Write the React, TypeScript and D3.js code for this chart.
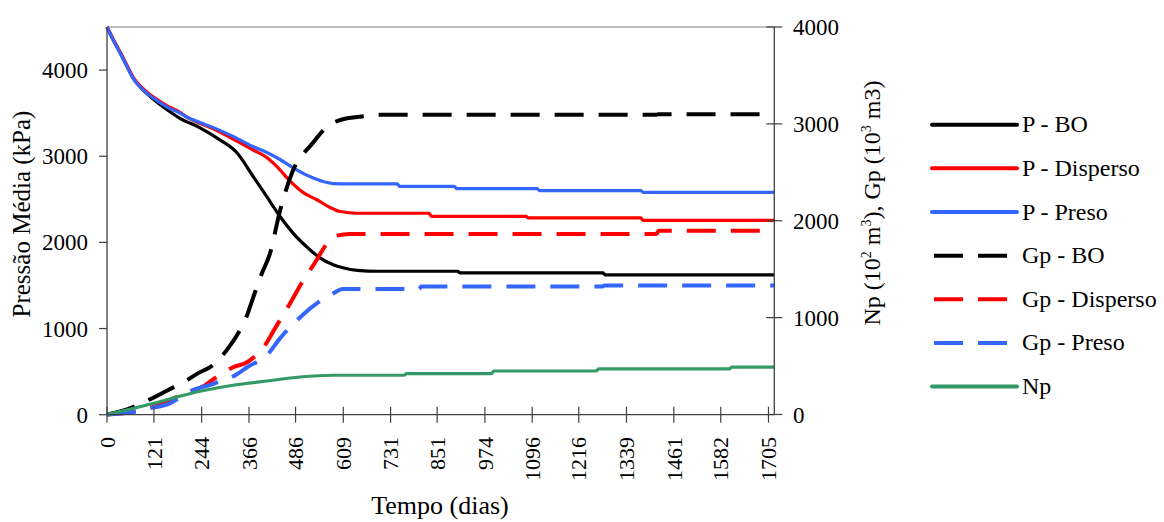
import React from 'react';
import * as d3 from 'd3';

// ---- data (days, value) ----
const xTickValues = [0, 121, 244, 366, 486, 609, 731, 851, 974, 1096, 1216, 1339, 1461, 1582, 1705];
const leftTickValues = [0, 1000, 2000, 3000, 4000];
const rightTickValues = [0, 1000, 2000, 3000, 4000];

// Pressure (kPa), left axis
const pBO: [number, number][] = [
  [0, 4500], [15, 4360], [34, 4200], [52, 4040], [67, 3910], [93, 3770], [119, 3665], [155, 3540],
  [188, 3440], [240, 3330], [291, 3190], [335, 3040], [376, 2770], [412, 2530], [446, 2300],
  [479, 2110], [523, 1915], [549, 1820], [583, 1740], [608, 1705], [645, 1675], [700, 1665],
  [904, 1665], [910, 1645], [1278, 1645], [1284, 1624], [1720, 1624],
];
const pDisperso: [number, number][] = [
  [0, 4500], [15, 4365], [34, 4210], [52, 4050], [67, 3920], [93, 3785], [119, 3690], [155, 3585],
  [188, 3510], [206, 3455], [273, 3320], [325, 3200], [376, 3075], [412, 2985], [438, 2880],
  [472, 2710], [505, 2580], [541, 2495], [575, 2405], [601, 2358], [645, 2338], [830, 2338],
  [836, 2302], [1080, 2302], [1086, 2284], [1376, 2284], [1382, 2256], [1720, 2256],
];
const pPreso: [number, number][] = [
  [0, 4500], [15, 4355], [34, 4195], [52, 4035], [67, 3905], [93, 3770], [119, 3675], [155, 3570],
  [188, 3500], [206, 3455], [273, 3335], [325, 3230], [376, 3113], [412, 3043], [446, 2962],
  [479, 2869], [523, 2764], [557, 2706], [583, 2683], [620, 2679], [748, 2679], [754, 2651],
  [895, 2651], [901, 2624], [1109, 2624], [1115, 2601], [1376, 2601], [1382, 2581], [1720, 2581],
];

// Production, right axis
const gpBO: [number, number][] = [
  [0, 0], [50, 50], [106, 148], [157, 251], [193, 324], [235, 427], [273, 509], [312, 683],
  [335, 818], [361, 1023], [376, 1199], [399, 1455], [420, 1661], [446, 2104], [479, 2516],
  [528, 2791], [570, 2979], [608, 3048], [645, 3070], [700, 3093], [1415, 3093], [1421, 3100],
  [1720, 3100],
];
const gpDisperso: [number, number][] = [
  [0, 0], [67, 27], [119, 78], [201, 219], [253, 303], [278, 374], [325, 488], [361, 540],
  [407, 714], [433, 889], [472, 1147], [498, 1332], [536, 1568], [570, 1778], [593, 1847],
  [626, 1864], [1416, 1864], [1422, 1898], [1720, 1898],
];
const gpPreso: [number, number][] = [
  [0, 0], [60, 20], [111, 65], [162, 115], [206, 226], [278, 322], [335, 415], [361, 488],
  [412, 611], [446, 786], [503, 1023], [544, 1157], [583, 1250], [608, 1295], [804, 1295],
  [810, 1321], [1276, 1321], [1282, 1332], [1720, 1332],
];
const np: [number, number][] = [
  [0, 0], [67, 62], [119, 113], [180, 181], [240, 240], [325, 302], [412, 346], [498, 387],
  [583, 405], [766, 405], [772, 422], [991, 422], [997, 449], [1261, 449], [1267, 470],
  [1604, 470], [1610, 490], [1720, 490],
];

const legendLabels = ['P - BO', 'P - Disperso', 'P - Preso', 'Gp - BO', 'Gp - Disperso', 'Gp - Preso', 'Np'];

const BLACK = '#000000';
const RED = '#FF0000';
const BLUE = '#3366FF';
const GREEN = '#339966';

export default function App() {
  const x = d3.scaleLinear().domain([0, 1720]).range([107, 774.3]);
  const yL = d3.scaleLinear().domain([0, 4500]).range([414.7, 27]);
  const yR = d3.scaleLinear().domain([0, 4000]).range([414.5, 27]);

  const lineL = d3.line<[number, number]>().x(d => x(d[0])).y(d => yL(d[1])).curve(d3.curveMonotoneX);
  const lineR = d3.line<[number, number]>().x(d => x(d[0])).y(d => yR(d[1])).curve(d3.curveMonotoneX);

  const series = [
    { data: pBO, color: BLACK, dash: false, axis: 'L' },
    { data: pDisperso, color: RED, dash: false, axis: 'L' },
    { data: pPreso, color: BLUE, dash: false, axis: 'L' },
    { data: gpBO, color: BLACK, dash: true, axis: 'R' },
    { data: gpDisperso, color: RED, dash: true, axis: 'R' },
    { data: gpPreso, color: BLUE, dash: true, axis: 'R' },
    { data: np, color: GREEN, dash: false, axis: 'R' },
  ];

  const font = "'Liberation Serif', 'DejaVu Serif', serif";
  const axisColor = '#404040';
  const x0 = 107, x1 = 774.3, yTop = 27, yBot = 414.7;

  return (
    <svg width={1164} height={522} style={{ position: 'fixed', left: 0, top: 0, background: '#fff', fontFamily: font }}>
      <rect x={0} y={0} width={1164} height={522} fill="#fff" />
      {/* top border */}
      <line x1={x0} x2={x1} y1={yTop} y2={yTop} stroke="#808080" strokeWidth={1} />

      {/* series */}
      {series.map((s, i) => (
        <path key={i}
          d={(s.axis === 'L' ? lineL : lineR)(s.data) || ''}
          fill="none" stroke={s.color}
          strokeWidth={s.dash ? 4 : 3.2}
          strokeDasharray={s.dash ? '29 15' : undefined}
          strokeLinejoin="round" />
      ))}

      {/* axes lines */}
      <line x1={x0} x2={x0} y1={yTop} y2={yBot} stroke={axisColor} strokeWidth={1.3} />
      <line x1={x1} x2={x1} y1={yTop} y2={yBot} stroke={axisColor} strokeWidth={1.3} />
      <line x1={x0} x2={x1} y1={yBot} y2={yBot} stroke={axisColor} strokeWidth={1.3} />

      {/* left ticks */}
      {leftTickValues.map(v => (
        <g key={'l' + v}>
          <line x1={x0 - 8} x2={x0} y1={yL(v)} y2={yL(v)} stroke={axisColor} strokeWidth={1.2} />
          <text x={88} y={yL(v)} dy="0.35em" textAnchor="end" fontSize={23} fill="#000" style={{ fontFamily: font }}>{v}</text>
        </g>
      ))}
      {/* right ticks */}
      {rightTickValues.map(v => (
        <g key={'r' + v}>
          <line x1={x1 - 8} x2={x1 + 8} y1={yR(v)} y2={yR(v)} stroke={axisColor} strokeWidth={1.2} />
          <text x={793} y={yR(v)} dy="0.35em" textAnchor="start" fontSize={23} fill="#000" style={{ fontFamily: font }}>{v}</text>
        </g>
      ))}
      {/* x ticks */}
      {xTickValues.map(v => (
        <g key={'x' + v}>
          <line x1={x(v)} x2={x(v)} y1={yBot - 8} y2={yBot + 8} stroke={axisColor} strokeWidth={1.2} />
          <text transform={`translate(${x(v)},${437}) rotate(-90)`} dy="0.35em" textAnchor="end" fontSize={22} fill="#000" style={{ fontFamily: font }}>{v}</text>
        </g>
      ))}

      {/* axis titles */}
      <text transform="translate(30,214) rotate(-90)" textAnchor="middle" fontSize={25} fill="#000" style={{ fontFamily: font }}>Pressão Média (kPa)</text>
      <text transform="translate(880,203) rotate(-90)" textAnchor="middle" fontSize={24} fill="#000" style={{ fontFamily: font }}>
        Np (10<tspan dy="-9" fontSize={14}>2</tspan><tspan dy="9"> m</tspan><tspan dy="-9" fontSize={14}>3</tspan><tspan dy="9">), Gp (10</tspan><tspan dy="-9" fontSize={14}>3</tspan><tspan dy="9"> m3)</tspan>
      </text>
      <text x={440} y={514} textAnchor="middle" fontSize={26} fill="#000" style={{ fontFamily: font }}>Tempo (dias)</text>

      {/* legend */}
      {series.map((s, i) => {
        const ly = 124.7 + i * 43.65;
        return (
          <g key={'lg' + i}>
            {s.dash ? (
              <line x1={934} x2={1007} y1={ly} y2={ly} stroke={s.color} strokeWidth={4} strokeDasharray="29 15" />
            ) : (
              <line x1={932} x2={1017} y1={ly} y2={ly} stroke={s.color} strokeWidth={4} strokeLinecap="round" />
            )}
            <text x={1022} y={ly + 7.5} fontSize={24} fill="#000" style={{ fontFamily: font }}>{legendLabels[i]}</text>
          </g>
        );
      })}
    </svg>
  );
}
